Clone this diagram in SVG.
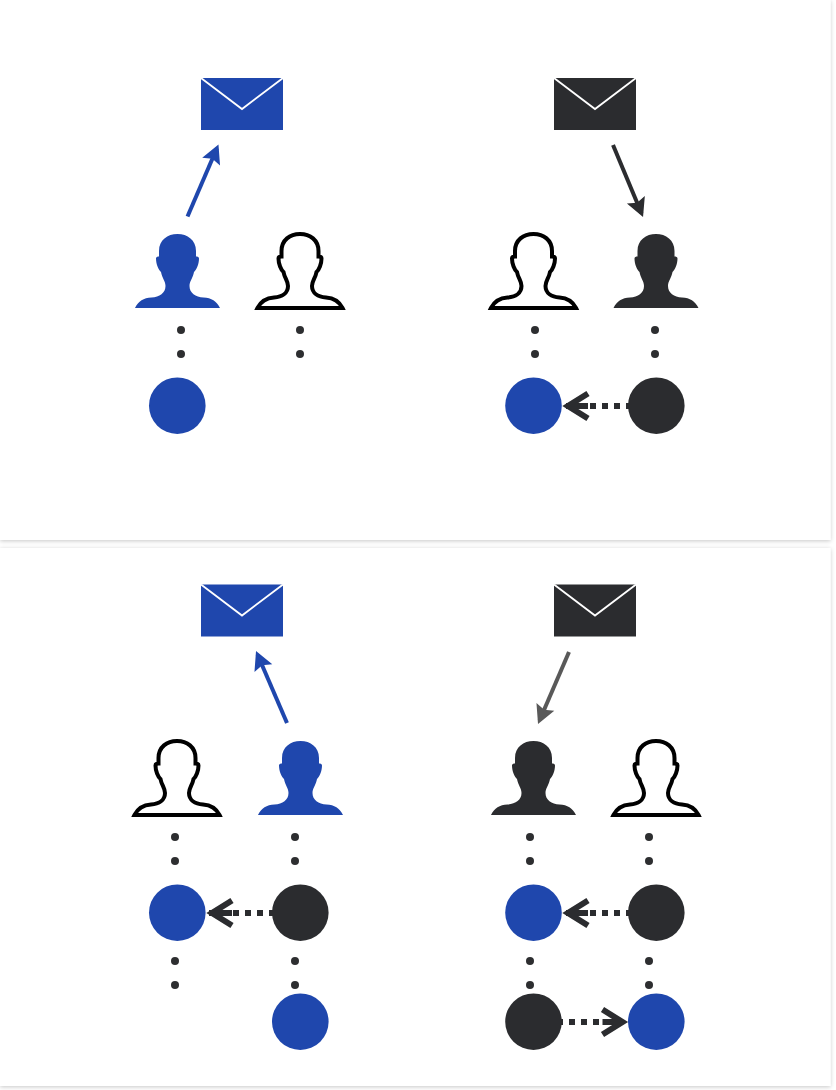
<svg xmlns="http://www.w3.org/2000/svg" width="836" height="1090" viewBox="0 0 836 1090">
<style>
.blue{fill:#1f47ad}
.dark{fill:#2b2c2f}
.outline{fill:#fff;stroke:#000;stroke-width:4;stroke-miterlimit:3}
.flap{fill:none;stroke:#fff;stroke-width:1.8}
.dot{fill:#2d2e30}
.panel{fill:#fff;filter:url(#shadow)}
.solid{fill:none;stroke-width:4}
.dotted{fill:none;stroke:#2b2c2f;stroke-width:6;stroke-dasharray:6 6}
</style>
<defs>
<filter id="shadow" x="-3%" y="-3%" width="106%" height="106%"><feDropShadow dx="0" dy="1" stdDeviation="2.2" flood-color="#000" flood-opacity="0.22"/></filter>
<marker id="headBlue" markerUnits="userSpaceOnUse" markerWidth="24" markerHeight="24" refX="16" refY="12" orient="auto" viewBox="0 0 24 24"><path d="M20 12L1.400 2.300L4.500 12L1.400 21.700Z" fill="#1f47ad"/></marker>
<marker id="headDark" markerUnits="userSpaceOnUse" markerWidth="24" markerHeight="24" refX="16" refY="12" orient="auto" viewBox="0 0 24 24"><path d="M20 12L1.400 2.300L4.500 12L1.400 21.700Z" fill="#2b2c2f"/></marker>
<marker id="headGrey" markerUnits="userSpaceOnUse" markerWidth="24" markerHeight="24" refX="16" refY="12" orient="auto" viewBox="0 0 24 24"><path d="M20 12L1.400 2.300L4.500 12L1.400 21.700Z" fill="#595959"/></marker>
<marker id="open" markerUnits="userSpaceOnUse" markerWidth="40" markerHeight="40" refX="30" refY="20" orient="auto" viewBox="0 0 40 40"><path d="M7 7.500L27 20L7 32.500M27 20H7" fill="none" stroke="#2b2c2f" stroke-width="6"/></marker>
<path id="person" d="M-42.500 74C-39 67-34 64-26 63.500C-18 63-12 59-12 52C-12 47-15.500 44-16.500 38C-19 36-21.500 30-21.500 24.500C-21.500 23-20 22.500-18.500 22.500L-18.500 17C-18.500 6-10 0 0 0C10 0 18.500 6 18.500 17L18.500 22.500C20 22.500 21.500 23 21.500 24.500C21.500 30 19 36 16.500 38C15.500 44 12 47 12 52C12 59 18 63 26 63.500C34 64 39 67 42.500 74Z"/>
<g id="mail"><rect x="0" y="0" width="82" height="52"/><path class="flap" d="M0 0L41 31L82 0"/></g>
</defs>
<rect class="panel" x="0" y="0" width="830.500" height="540"/>
<rect class="panel" x="0" y="548" width="830.500" height="538"/>
<g id="connectors">
<path class="solid" stroke="#1f47ad" d="M187.500 216.500L216.900 148.200" marker-end="url(#headBlue)"/>
<path class="solid" stroke="#2b2c2f" d="M613 145L641.500 213.300" marker-end="url(#headDark)"/>
<path class="solid" stroke="#1f47ad" d="M287 723L257.600 654.700" marker-end="url(#headBlue)"/>
<path class="solid" stroke="#595959" d="M569 652L539.600 720.300" marker-end="url(#headGrey)"/>
<path class="dotted" d="M632 406H565" marker-end="url(#open)"/>
<path class="dotted" d="M275 913H209" marker-end="url(#open)"/>
<path class="dotted" d="M632 913H565" marker-end="url(#open)"/>
<path class="dotted" d="M557 1022H625.500" marker-end="url(#open)"/>
</g>
<g id="mail-1" class="blue"><use href="#mail" x="201" y="78"/></g>
<g id="mail-2" class="dark"><use href="#mail" x="554" y="78"/></g>
<g id="mail-3" class="blue"><use href="#mail" x="201" y="584.500"/></g>
<g id="mail-4" class="dark"><use href="#mail" x="554" y="584.500"/></g>
<g id="person-1" class="blue"><use href="#person" x="177.500" y="234"/></g>
<g id="person-2" class="outline"><use href="#person" x="300" y="234"/></g>
<g id="person-3" class="outline"><use href="#person" x="533.500" y="234"/></g>
<g id="person-4" class="dark"><use href="#person" x="656" y="234"/></g>
<g id="person-5" class="outline"><use href="#person" x="177" y="741"/></g>
<g id="person-6" class="blue"><use href="#person" x="300.500" y="741"/></g>
<g id="person-7" class="dark"><use href="#person" x="533.500" y="741"/></g>
<g id="person-8" class="outline"><use href="#person" x="656" y="741"/></g>
<g id="dots" class="dot">
<circle cx="181" cy="330" r="4"/><circle cx="181" cy="354" r="4"/>
<circle cx="300" cy="330" r="4"/><circle cx="300" cy="354" r="4"/>
<circle cx="535" cy="330" r="4"/><circle cx="535" cy="354" r="4"/>
<circle cx="655" cy="330" r="4"/><circle cx="655" cy="354" r="4"/>
<circle cx="175" cy="837" r="4"/><circle cx="175" cy="861" r="4"/>
<circle cx="295" cy="837" r="4"/><circle cx="295" cy="861" r="4"/>
<circle cx="530" cy="837" r="4"/><circle cx="530" cy="861" r="4"/>
<circle cx="649" cy="837" r="4"/><circle cx="649" cy="861" r="4"/>
<circle cx="175" cy="961" r="4"/><circle cx="175" cy="985" r="4"/>
<circle cx="295" cy="961" r="4"/><circle cx="295" cy="985" r="4"/>
<circle cx="530" cy="961" r="4"/><circle cx="530" cy="985" r="4"/>
<circle cx="649" cy="961" r="4"/><circle cx="649" cy="985" r="4"/>
</g>
<g id="node-1"><circle class="blue" cx="177.300" cy="405.700" r="28.300"/></g>
<g id="node-2"><circle class="blue" cx="533.500" cy="405.700" r="28.300"/></g>
<g id="node-3"><circle class="dark" cx="656.300" cy="405.700" r="28.300"/></g>
<g id="node-4"><circle class="blue" cx="177.300" cy="912.700" r="28.300"/></g>
<g id="node-5"><circle class="dark" cx="300.300" cy="912.700" r="28.300"/></g>
<g id="node-6"><circle class="blue" cx="533.500" cy="912.700" r="28.300"/></g>
<g id="node-7"><circle class="dark" cx="656.300" cy="912.700" r="28.300"/></g>
<g id="node-8"><circle class="blue" cx="300.300" cy="1021.700" r="28.300"/></g>
<g id="node-9"><circle class="dark" cx="533.500" cy="1021.700" r="28.300"/></g>
<g id="node-10"><circle class="blue" cx="656.300" cy="1021.700" r="28.300"/></g>
</svg>
